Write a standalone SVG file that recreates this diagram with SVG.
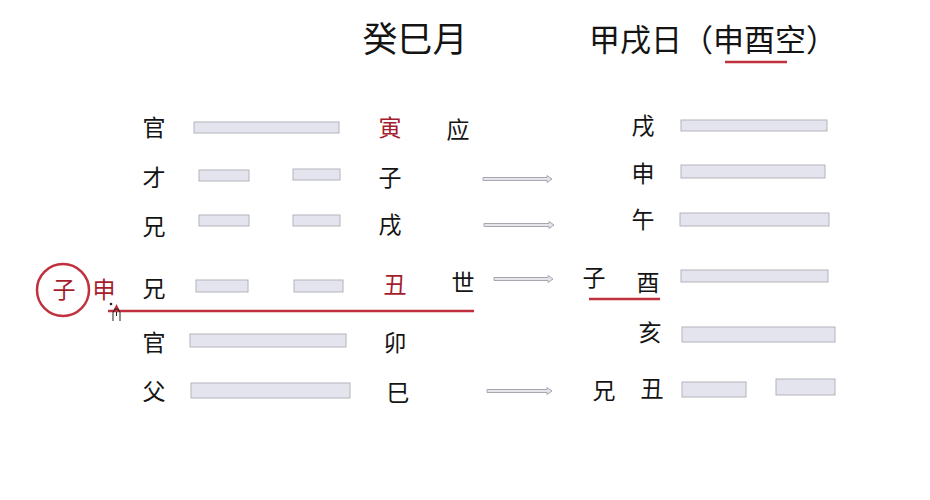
<svg xmlns="http://www.w3.org/2000/svg" width="930" height="500" viewBox="0 0 930 500">
<style>
text{font-family:"Noto Sans CJK SC","Noto Sans CJK JP",sans-serif;fill:#141414;text-anchor:middle}
.t{font-size:23px}
.h{font-size:31px}
.h2{font-size:35px}
.r{fill:#a51d2d}
.bar{fill:#e4e4ee;stroke:#b4b4bc;stroke-width:1}
.arr{fill:#e4e4ea;stroke:#a8a8b0;stroke-width:1}
.red{stroke:#c0303e;fill:none}
</style>
<rect width="930" height="500" fill="#fff"/>
<g id="titles">
<text class="h2" x="415" y="52">癸巳月</text>
<text class="h" x="713" y="51">甲戌日（申酉空）</text>
<line class="red" x1="725" y1="62" x2="787" y2="62" stroke-width="2.5"/>
</g>
<g id="left-hexagram">
<g id="row1"><text class="t" x="154" y="136">官</text><rect class="bar" x="194" y="122" width="145" height="11"/><text class="t r" x="390" y="136">寅</text><text class="t" x="458" y="138">应</text></g>
<g id="row2"><text class="t" x="154" y="186">才</text><rect class="bar" x="199" y="170" width="50" height="11"/><rect class="bar" x="293" y="169" width="47" height="11"/><text class="t" x="390" y="186">子</text></g>
<g id="row3"><text class="t" x="154" y="235">兄</text><rect class="bar" x="199" y="215" width="50" height="11"/><rect class="bar" x="293" y="215" width="47" height="11"/><text class="t" x="390" y="233">戌</text></g>
<g id="row4"><text class="t" x="154" y="297">兄</text><rect class="bar" x="196" y="280" width="52" height="12"/><rect class="bar" x="294" y="280" width="49" height="12"/><text class="t r" x="395" y="293">丑</text><text class="t" x="463" y="291">世</text></g>
<g id="row5"><text class="t" x="154" y="351">官</text><rect class="bar" x="190" y="334" width="156" height="13"/><text class="t" x="395" y="351">卯</text></g>
<g id="row6"><text class="t" x="154" y="400">父</text><rect class="bar" x="191" y="383" width="159" height="15"/><text class="t" x="398" y="401">巳</text></g>
</g>
<g id="fu-shen">
<circle class="red" cx="63" cy="290" r="26" stroke-width="2.5"/>
<text class="t r" x="64" y="298">子</text>
<text class="t r" x="104" y="298">申</text>
<line class="red" x1="108" y1="311" x2="474" y2="311" stroke-width="2.5"/>
<circle cx="111" cy="304" r="1.3" fill="#222"/>
<path d="M113.5 310 L116.5 304 L119.5 310 Z" fill="#c0303e"/>
<path d="M113 321 L113 312 L115 309 L118 309 L120 312 L120 321 M116.5 312 L116.5 316" fill="none" stroke="#222" stroke-width="1"/>
</g>
<g id="right-hexagram">
<g id="r1"><text class="t" x="643" y="134">戌</text><rect class="bar" x="681" y="120" width="146" height="11"/></g>
<g id="r2"><text class="t" x="643" y="182">申</text><rect class="bar" x="681" y="165" width="144" height="13"/></g>
<g id="r3"><text class="t" x="643" y="228">午</text><rect class="bar" x="680" y="213" width="149" height="13"/></g>
<g id="r4"><text class="t" x="594" y="286">子</text><text class="t" x="648" y="291">酉</text><rect class="bar" x="681" y="270" width="147" height="12"/><line class="red" x1="589" y1="299" x2="660" y2="299" stroke-width="2.5"/></g>
<g id="r5"><text class="t" x="650" y="341">亥</text><rect class="bar" x="682" y="327" width="153" height="15"/></g>
<g id="r6"><text class="t" x="604" y="399">兄</text><text class="t" x="652" y="397">丑</text><rect class="bar" x="682" y="382" width="64" height="15"/><rect class="bar" x="776" y="379" width="59" height="16"/></g>
</g>
<g id="connectors">
<path class="arr" d="M483 177.5 H547 V175.5 L552 179 L547 182.5 V180.5 H483 Z"/>
<path class="arr" d="M484 223.5 H549 V221.5 L554 225 L549 228.5 V226.5 H484 Z"/>
<path class="arr" d="M494 277.5 H548 V275.5 L553 279 L548 282.5 V280.5 H494 Z"/>
<path class="arr" d="M487 389.5 H547 V387.5 L552 391 L547 394.5 V392.5 H487 Z"/>
</g>
</svg>
